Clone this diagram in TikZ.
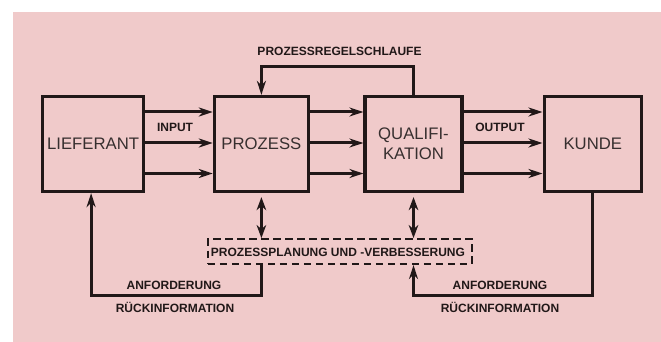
\documentclass[tikz,border=0pt]{standalone}
\usepackage{fontspec}
\setmainfont{Liberation Sans}
\usetikzlibrary{arrows.meta}
\definecolor{bgpink}{RGB}{240,202,202}
\definecolor{ink}{RGB}{33,24,24}
\begin{document}
\begin{tikzpicture}[x=1pt,y=-1pt,
  box/.style={draw=ink,line width=3.2pt,minimum height=95pt,inner sep=0pt,
    font=\fontsize{16.7}{20}\selectfont,text=ink!90,align=center},
  flow/.style={draw=ink,line width=3pt,-{Stealth[length=14pt,width=9pt,inset=4.5pt]}},
  dflow/.style={draw=ink,line width=2.8pt,{Stealth[length=13pt,width=9.5pt,inset=4pt]}-{Stealth[length=13pt,width=9.5pt,inset=4pt]}},
  planbox/.style={draw=ink,line width=2.3pt,dash pattern=on 7.5pt off 4.5pt,minimum width=264pt,minimum height=24.7pt,inner sep=0pt},
  lbl/.style={font=\bfseries\fontsize{12}{14}\selectfont,text=ink,inner sep=0pt}
]
\useasboundingbox (0,0) rectangle (661,342);
\fill[bgpink] (13.3,11.7) rectangle (661,342);

\node[box,minimum width=101.5pt] (lief) at (93.1,144) {LIEFERANT};
\node[box,minimum width=94pt] (proz) at (261.4,144) {PROZESS};
\node[box,minimum width=97pt] (qual) at (413.5,144) {QUALIFI-\\KATION};
\node[box,minimum width=97.4pt] (kunde) at (592.8,144) {KUNDE};

\node[planbox] (plan) at (339.8,251.6) {};
\node[lbl] (plantxt) at (338,252.5) {PROZESSPLANUNG UND -VERBESSERUNG};

% input / output arrows
\foreach \s in {32,1,-29.5}{
  \draw[flow] ([yshift=\s pt]lief.east) -- ([yshift=\s pt]proz.west);
  \draw[flow] ([yshift=\s pt]proz.east) -- ([yshift=\s pt]qual.west);
  \draw[flow] ([yshift=\s pt]qual.east) -- ([yshift=\s pt]kunde.west);
}
\node[lbl] (input) at (175,127.3) {INPUT};
\node[lbl] (output) at (500,127.3) {OUTPUT};

% control loop
\coordinate (top) at (0,66.7);
\draw[flow] (qual.north) -- (qual.north |- top) -| (proz.north);
\node[lbl] (regel) at (339.5,51) {PROZESSREGELSCHLAUFE};

% double arrows
\draw[dflow] ([yshift=-4pt]proz.south) -- (proz.south |- plan.north);
\draw[dflow] ([yshift=-4pt]qual.south) -- (qual.south |- plan.north);

% bottom loops
\coordinate (bot) at (0,295);
\draw[flow] (proz.south |- plan.south) -- (proz.south |- bot) -| ([xshift=-2pt]lief.south);
\draw[flow] (kunde.south) -- (kunde.south |- bot) -| (qual.south |- plan.south);

\node[lbl] (anf1) at (174,285) {ANFORDERUNG};
\node[lbl] (rue1) at (175,307) {RÜCKINFORMATION};
\node[lbl] (anf2) at (500,285) {ANFORDERUNG};
\node[lbl] (rue2) at (500,307) {RÜCKINFORMATION};
\end{tikzpicture}
\end{document}
